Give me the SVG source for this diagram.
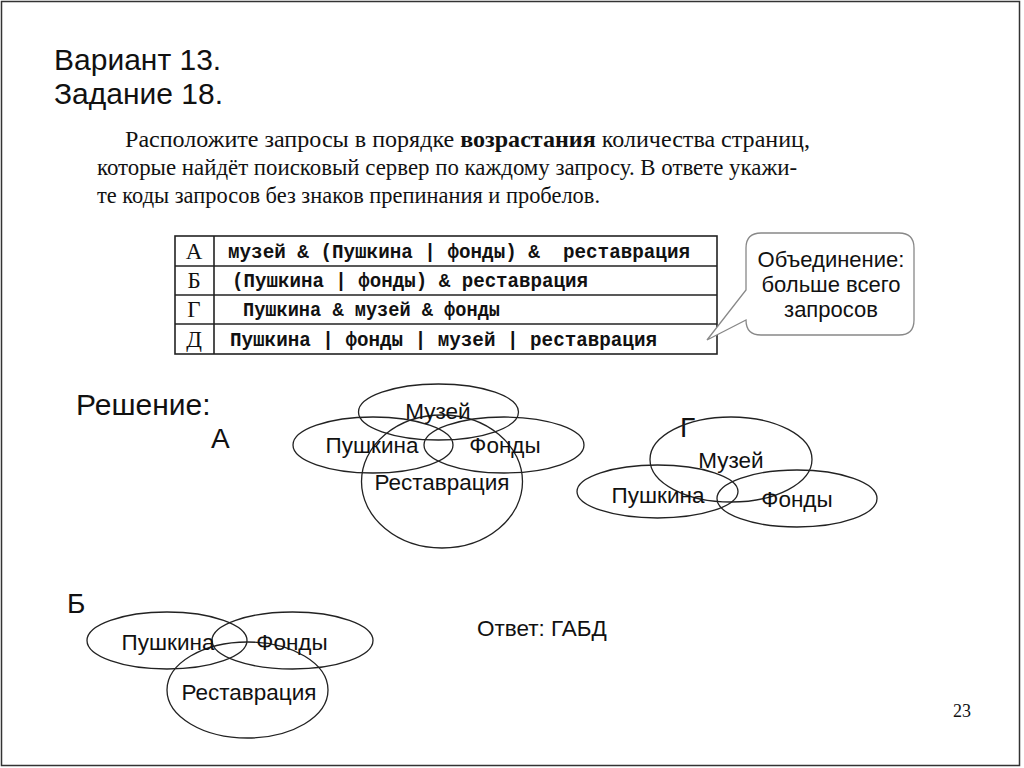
<svg xmlns="http://www.w3.org/2000/svg" width="1024" height="768" viewBox="0 0 1024 768">
<style>
.s{font-family:"Liberation Sans",Arial,sans-serif;fill:#111}
.serif{font-family:"Liberation Serif","Times New Roman",serif;fill:#111}
.mono{font-family:"Liberation Mono","Courier New",monospace;fill:#111;font-weight:bold;font-size:21px}
.v{fill:none;stroke:#222;stroke-width:1.3}
.tb{fill:none;stroke:#222;stroke-width:1.6}
.lbl{font-family:"Liberation Sans",Arial,sans-serif;fill:#111;font-size:22.5px}
</style>
<rect x="1.5" y="1.5" width="1018" height="764" fill="#fff" stroke="#333" stroke-width="1.5"/>

<g id="title">
<text class="s" x="54" y="70" font-size="30">Вариант 13.</text>
<text class="s" x="54" y="104" font-size="30">Задание 18.</text>
</g>

<g id="task">
<text class="serif" x="125" y="147" font-size="24" textLength="685" lengthAdjust="spacingAndGlyphs">Расположите запросы в порядке <tspan font-weight="bold">возрастания</tspan> количества страниц,</text>
<text class="serif" x="97" y="175" font-size="24" textLength="700" lengthAdjust="spacingAndGlyphs">которые найдёт поисковый сервер по каждому запросу. В ответе укажи-</text>
<text class="serif" x="97" y="203" font-size="24" textLength="503" lengthAdjust="spacingAndGlyphs">те коды запросов без знаков препинания и пробелов.</text>
</g>

<g id="table">
<rect class="tb" x="175" y="236" width="542" height="118"/>
<line class="tb" x1="175" y1="266" x2="717" y2="266"/>
<line class="tb" x1="175" y1="295" x2="717" y2="295"/>
<line class="tb" x1="175" y1="324" x2="717" y2="324"/>
<line class="tb" x1="214" y1="236" x2="214" y2="354"/>
<text class="serif" x="194" y="259" font-size="23" text-anchor="middle">А</text>
<text class="serif" x="194" y="288" font-size="23" text-anchor="middle">Б</text>
<text class="serif" x="194" y="317" font-size="23" text-anchor="middle">Г</text>
<text class="serif" x="194" y="347" font-size="23" text-anchor="middle">Д</text>
<text class="mono" x="228" y="258" textLength="462" lengthAdjust="spacingAndGlyphs" xml:space="preserve">музей &amp; (Пушкина | фонды) &amp;  реставрация</text>
<text class="mono" x="232" y="287" textLength="356" lengthAdjust="spacingAndGlyphs">(Пушкина | фонды) &amp; реставрация</text>
<text class="mono" x="243" y="316" textLength="257" lengthAdjust="spacingAndGlyphs">Пушкина &amp; музей &amp; фонды</text>
<text class="mono" x="230" y="346" textLength="427" lengthAdjust="spacingAndGlyphs">Пушкина | фонды | музей | реставрация</text>
</g>

<g id="callout">
<path d="M761,233 H899 Q914,233 914,248 V320 Q914,335 899,335 H761 Q746,335 746,320 L707,340 L746,290 V248 Q746,233 761,233 Z" fill="#fff" stroke="#888" stroke-width="1.3"/>
<text class="s" x="831" y="267" font-size="22" text-anchor="middle">Объединение:</text>
<text class="s" x="831" y="292" font-size="22" text-anchor="middle">больше всего</text>
<text class="s" x="831" y="317" font-size="22" text-anchor="middle">запросов</text>
</g>

<g id="solution-label">
<text class="s" x="76" y="415" font-size="30">Решение:</text>
<text class="s" x="211" y="448" font-size="28">А</text>
</g>

<g id="venn-A">
<ellipse class="v" cx="438.5" cy="412" rx="80" ry="28"/>
<ellipse class="v" cx="373" cy="445" rx="80" ry="28"/>
<ellipse class="v" cx="504" cy="445" rx="80" ry="28"/>
<ellipse class="v" cx="442" cy="481.5" rx="80.5" ry="66.5"/>
<text class="lbl" x="438" y="419" text-anchor="middle">Музей</text>
<text class="lbl" x="372" y="453" text-anchor="middle">Пушкина</text>
<text class="lbl" x="505" y="453" text-anchor="middle">Фонды</text>
<text class="lbl" x="442" y="490" text-anchor="middle">Реставрация</text>
</g>

<g id="venn-G">
<text class="s" x="680" y="437" font-size="28">Г</text>
<ellipse class="v" cx="731" cy="459.5" rx="81" ry="42.5"/>
<ellipse class="v" cx="657.5" cy="491.5" rx="80.5" ry="26.5"/>
<ellipse class="v" cx="797" cy="498.5" rx="80" ry="28.5"/>
<text class="lbl" x="731" y="468" text-anchor="middle">Музей</text>
<text class="lbl" x="658" y="503" text-anchor="middle">Пушкина</text>
<text class="lbl" x="797" y="507" text-anchor="middle">Фонды</text>
</g>

<g id="venn-B">
<text class="s" x="67" y="613" font-size="28">Б</text>
<ellipse class="v" cx="167" cy="640.5" rx="80" ry="28.5"/>
<ellipse class="v" cx="292.5" cy="640.5" rx="80.5" ry="28.5"/>
<ellipse class="v" cx="247.5" cy="690" rx="80.5" ry="48"/>
<text class="lbl" x="168" y="650" text-anchor="middle">Пушкина</text>
<text class="lbl" x="292" y="650" text-anchor="middle">Фонды</text>
<text class="lbl" x="249" y="700" text-anchor="middle">Реставрация</text>
</g>

<g id="answer">
<text class="s" x="477" y="636" font-size="22.5">Ответ: ГАБД</text>
</g>
<text class="serif" x="962" y="717" font-size="18" text-anchor="middle">23</text>
</svg>
